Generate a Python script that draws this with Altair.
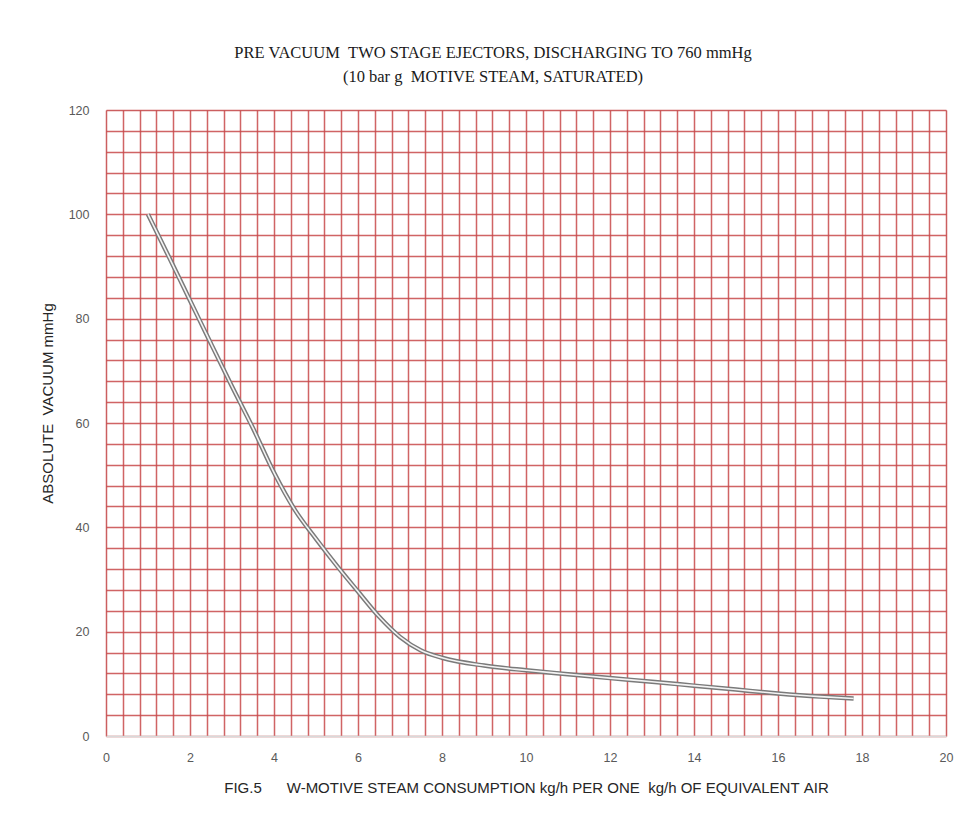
import altair as alt
import pandas as pd

# Curve
steam = [1.0, 1.5, 2.0, 2.5, 3.0, 3.5, 4.0, 4.5, 5.0, 5.5, 6.0, 6.5, 7.0, 7.5, 8.0,
         9.0, 10.0, 11.0, 12.0, 13.0, 14.0, 15.0, 16.0, 17.0, 17.8]
vacuum = [100, 91.8, 83.5, 75.2, 67.0, 59.0, 50.5, 43.3, 37.8, 32.6, 27.7, 22.9, 19.0, 16.4, 15.0,
          13.5, 12.6, 11.85, 11.1, 10.4, 9.65, 8.9, 8.15, 7.55, 7.2]

x_grid = [round(i * 0.4, 1) for i in range(51)]
y_grid = [i * 4 for i in range(31)]

title_lines = ["PRE VACUUM  TWO STAGE EJECTORS, DISCHARGING TO 760 mmHg",
               "(10 bar g  MOTIVE STEAM, SATURATED)"]
x_title = "FIG.5      W-MOTIVE STEAM CONSUMPTION kg/h PER ONE  kg/h OF EQUIVALENT AIR"
y_title = "ABSOLUTE  VACUUM mmHg"

nb = lambda s: s.replace(" ", "\u00a0")

df = pd.DataFrame({"x": steam, "y": vacuum})

GRID = "#c8494a"
LABEL = "#595959"
FONT = "Liberation Sans"

x_enc = alt.X(
    "x:Q",
    scale=alt.Scale(domain=[0, 20], nice=False, zero=False),
    axis=alt.Axis(
        values=x_grid, tickCount=200, labelOverlap=False,
        labelExpr="datum.value % 2 == 0 ? '' + round(datum.value) : ''",
        grid=True, gridColor=GRID, gridWidth=1.5, gridOpacity=0.85,
        ticks=False, domain=True, domainColor="#d9d9d9", domainWidth=1.5,
        labelFont=FONT, labelFontSize=12.5, labelColor=LABEL, labelPadding=15,
        labelFlush=False,
        title=nb(x_title), titleFont=FONT, titleFontSize=15, titleFontWeight="normal",
        titleColor="#262626", titlePadding=17,
    ),
)
y_enc = alt.Y(
    "y:Q",
    scale=alt.Scale(domain=[0, 120], nice=False, zero=False),
    axis=alt.Axis(
        values=y_grid, tickCount=200, labelOverlap=False,
        labelExpr="datum.value % 20 == 0 ? '' + round(datum.value) : ''",
        grid=True, gridColor=GRID, gridWidth=1.5, gridOpacity=0.85,
        ticks=False, domain=False,
        labelFont=FONT, labelFontSize=12.5, labelColor=LABEL, labelPadding=17,
        labelFlush=False,
        title=nb(y_title), titleFont=FONT, titleFontSize=15, titleFontWeight="normal",
        titleColor="#262626", titlePadding=13, titleY=293,
    ),
)

outer = alt.Chart(df).mark_line(
    color="#7a7a7a", strokeWidth=4.5, interpolate="monotone", strokeCap="butt"
).encode(x=x_enc, y=y_enc)
inner = alt.Chart(df).mark_line(
    color="#f4f4f4", strokeWidth=1.6, interpolate="monotone", strokeCap="butt"
).encode(x="x:Q", y="y:Q")

chart = (
    alt.layer(outer, inner)
    .properties(
        width=840,
        height=626,
        autosize=alt.AutoSizeParams(type="none"),
        padding={"left": 106, "top": 110, "right": 24, "bottom": 78},
        title=alt.TitleParams(
            text=[nb(t) for t in title_lines],
            font="Liberation Serif", fontSize=16.5, fontWeight="normal", color="#1a1a1a",
            anchor="middle", offset=19, lineHeight=24, dx=-33,
        ),
    )
    .configure_view(stroke=None)
    .configure(background="white")
)

chart.save("out.html", embed_options={"renderer": "svg", "actions": False})
